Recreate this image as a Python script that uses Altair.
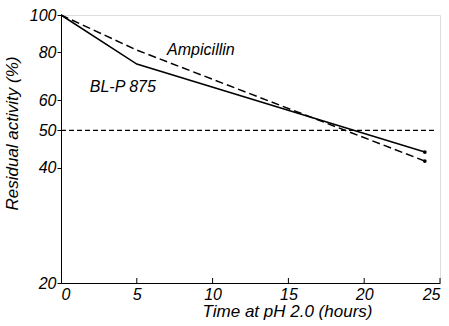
import altair as alt
import pandas as pd

# data
time_pts = [0, 5, 24]
blp875 = [100, 74.5, 43.9]
ampicillin = [100, 81, 41.6]
ref_x = [0, 24.8]
ref_y = [50, 50]
x_ticks = [0, 5, 10, 15, 20, 25]
y_ticks = [20, 40, 50, 60, 80, 100]
label_text = ["Ampicillin", "BL-P 875"]
label_x = [7.0, 1.9]
label_y = [81, 65]

FONT = "Liberation Sans"
W, H = 379, 268

df = pd.DataFrame(
    {"t": time_pts * 2,
     "v": blp875 + ampicillin,
     "s": ["BL-P 875"] * 3 + ["Ampicillin"] * 3}
)
ref = pd.DataFrame({"t": ref_x, "v": ref_y})
labs = pd.DataFrame({"t": label_x, "v": label_y, "txt": label_text})
ticks = pd.DataFrame({"t": x_ticks[1:]})
ends = df[df["t"] == 24]

xs = alt.Scale(domain=[0, 25], nice=False, zero=False)
ys = alt.Scale(type="log", domain=[20, 100], nice=False)

xaxis = alt.Axis(values=x_ticks, title="Time at pH 2.0 (hours)", grid=False,
                 tickSize=0, labelPadding=3, labelFontSize=16, labelFont=FONT,
                 labelFontStyle="italic", titleFont=FONT, titleFontStyle="italic",
                 titleFontWeight="normal", titleFontSize=17, titleX=226, titleY=20,
                 titleBaseline="top",
                 domainColor="black", labelColor="black", titleColor="black")
yaxis = alt.Axis(values=y_ticks, title="Residual activity (%)", grid=False,
                 tickSize=4, tickColor="black", labelPadding=1, labelFontSize=16,
                 labelFont=FONT, labelFontStyle="italic", titleFont=FONT,
                 titleFontStyle="italic", titleFontWeight="normal", titleFontSize=17,
                 titleX=-40, titleY=118, domainColor="black", labelColor="black",
                 titleColor="black")

base_x = alt.X("t:Q", scale=xs, axis=xaxis)
base_y = alt.Y("v:Q", scale=ys, axis=yaxis)

solid = alt.Chart(df[df.s == "BL-P 875"]).mark_line(color="black", strokeWidth=1.5).encode(
    x=base_x, y=base_y)
dashed = alt.Chart(df[df.s == "Ampicillin"]).mark_line(
    color="black", strokeWidth=1.5, strokeDash=[8, 4]).encode(x="t:Q", y="v:Q")
dotted = alt.Chart(ref).mark_line(color="black", strokeWidth=1.2,
                                  strokeDash=[5, 3]).encode(x="t:Q", y="v:Q")
dots = alt.Chart(ends).mark_point(filled=True, color="black", size=14, opacity=1).encode(
    x="t:Q", y="v:Q")
text = alt.Chart(labs).mark_text(align="left", baseline="middle", font=FONT,
                                 fontStyle="italic", fontSize=16, color="black").encode(
    x="t:Q", y="v:Q", text="txt:N")
tick_marks = alt.Chart(ticks).mark_rule(color="black", strokeWidth=1).encode(
    x="t:Q", y=alt.value(H), y2=alt.value(H - 5))

chart = alt.layer(solid, dashed, dotted, dots, text, tick_marks).properties(
    width=W, height=H,
    autosize=alt.AutoSizeParams(type="none"),
    padding={"left": 61, "top": 15, "right": 9, "bottom": 43},
).configure_view(stroke=None).configure(background="white")

chart.save("out.html", embed_options={"renderer": "svg", "actions": False})
